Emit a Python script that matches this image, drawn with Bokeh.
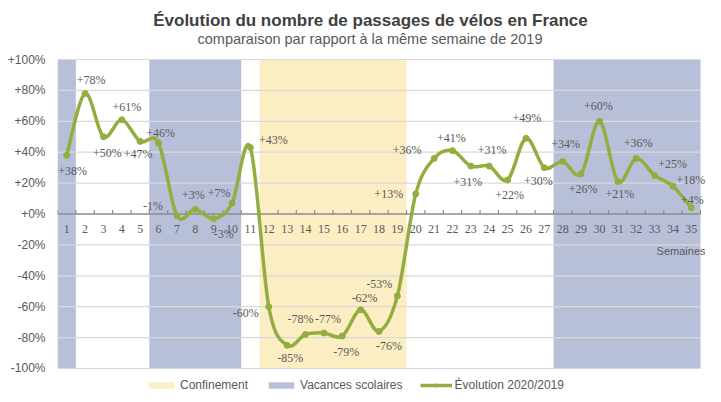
import numpy as np
from bokeh.plotting import figure
from bokeh.models import (ColumnDataSource, LabelSet, Label, Legend, LegendItem,
                          FixedTicker, Range1d)
from bokeh.embed import file_html
from bokeh.resources import INLINE

# ---------------- data ----------------
weeks = list(range(1, 36))
evolution = [38, 78, 50, 61, 47, 46, -1, 3, -3, 7, 43, -60, -85, -78, -77, -79, -62,
             -76, -53, 13, 36, 41, 31, 31, 22, 49, 30, 34, 26, 60, 21, 36, 25, 18, 4]
vacances_debut = [1, 6, 28]
vacances_fin = [1, 10, 35]
confinement_debut = [12]
confinement_fin = [19]
y_ticks = [-100, -80, -60, -40, -20, 0, 20, 40, 60, 80, 100]
y_tick_labels = ["-100%", "-80%", "-60%", "-40%", "-20%", "+0%",
                 "+20%", "+40%", "+60%", "+80%", "+100%"]
week_labels = [str(w) for w in weeks]
point_labels = [f"{v:+d}%" for v in evolution]

title_text = "Évolution du nombre de passages de vélos en France"
subtitle_text = "comparaison par rapport à la même semaine de 2019"
x_title = "Semaines"

# label placement (screen pixels, dy positive = down)
label_dx = [6, 6, 4, 5, -2, 2, -24, -2, 10, -13, 23, -23, 3, -5, 4, 4, 4, 10, -18,
            -27, -27, -1, -3, 3, 2, 1, -6, 3, 2, -1, 2, 2, 18, 18, 1]
label_dy = [16, -13, 16, -13, 13, -10, -10, -14, 15, -10, -8, 6, 13, -16, -14, 16, -12,
            15, -12, 0, -8, -13, 16, -16, 15, -20, 13, -17, 15, -15, 12, -15, -11, -6, -8]

# ---------------- style ----------------
FONT = "Liberation Sans"
TXT = "#595959"
GREEN = "#93AE3F"
VAC = "#B8C0D9"
CONF = "#FCEEC3"
GRID = "#D9D9D9"
AXIS = "#8C8C8C"

W, H = 705, 394
x_lo = weeks[0] - 0.5
x_hi = weeks[-1] + 0.5
# plotting frame spans the whole height so that titles/legend (annotations) are not clipped
p = figure(width=W, height=H, output_backend="svg", toolbar_location=None,
           x_range=Range1d(x_lo, x_hi + 0.272), y_range=Range1d(-116.83, 138.19),
           x_axis_location=None, min_border_left=57, min_border_right=0,
           min_border_top=0, min_border_bottom=0)
p.outline_line_color = None
p.xgrid.visible = False
p.ygrid.visible = False

ya = p.yaxis[0]
ya.ticker = FixedTicker(ticks=y_ticks)
ya.major_label_overrides = dict(zip(y_ticks, y_tick_labels))
ya.axis_line_color = None
ya.major_tick_line_color = None
ya.major_tick_in = 0
ya.major_tick_out = 0
ya.minor_tick_line_color = None
ya.minor_tick_in = 0
ya.minor_tick_out = 0
ya.major_label_standoff = 12
ya.major_label_text_font = FONT
ya.major_label_text_font_size = "12px"
ya.major_label_text_color = TXT

# bands
conf_r = p.quad(left=[s - 0.5 for s in confinement_debut], right=[e + 0.5 for e in confinement_fin],
                top=100, bottom=-100, fill_color=CONF, line_color=None, level="image")
vac_r = p.quad(left=[s - 0.5 for s in vacances_debut], right=[e + 0.5 for e in vacances_fin],
               top=100, bottom=-100, fill_color=VAC, line_color=None, level="image")

# horizontal grid lines limited to the category span
grid_y = [t for t in y_ticks if t != 0]
p.segment(x0=[x_lo] * len(grid_y), x1=[x_hi] * len(grid_y), y0=grid_y, y1=grid_y,
          line_color=GRID, line_width=1.2, level="underlay")
# zero axis line + ticks
p.segment(x0=[x_lo], x1=[x_hi], y0=[0], y1=[0], line_color=AXIS, line_width=1.5, level="underlay")
boundaries = [w - 0.5 for w in weeks] + [x_hi]
p.ray(x=boundaries, y=[0] * len(boundaries), length=4, angle=np.pi / 2, length_units="screen",
      line_color=AXIS, line_width=1.2, level="underlay")

# smoothed line through bezier segments
x = np.array(weeks, dtype=float)
y = np.array(evolution, dtype=float)
xp = np.concatenate([[x[0]], x, [x[-1]]])
yp = np.concatenate([[y[0]], y, [y[-1]]])
n = len(x)
seg = dict(x0=x[:-1], y0=y[:-1], x1=x[1:], y1=y[1:],
           cx0=x[:-1] + (xp[2:n + 1] - xp[0:n - 1]) / 6.0,
           cy0=y[:-1] + (yp[2:n + 1] - yp[0:n - 1]) / 6.0,
           cx1=x[1:] - (xp[3:n + 2] - xp[1:n]) / 6.0,
           cy1=y[1:] - (yp[3:n + 2] - yp[1:n]) / 6.0)
p.bezier(source=ColumnDataSource(seg), x0="x0", y0="y0", x1="x1", y1="y1",
         cx0="cx0", cy0="cy0", cx1="cx1", cy1="cy1",
         line_color=GREEN, line_width=3.5, line_cap="round")
# legend proxy for the line style (single point: draws nothing in the plot)
line_r = p.line(x=weeks[:1], y=evolution[:1], line_color=GREEN, line_width=3.5)
pts = ColumnDataSource(dict(x=weeks, y=evolution, label=point_labels,
                            dx=label_dx, dy=[-d for d in label_dy]))
mark_r = p.scatter("x", "y", source=pts, size=6, fill_color=GREEN, line_color=GREEN)

# data labels
p.add_layout(LabelSet(x="x", y="y", text="label", source=pts, x_offset="dx", y_offset="dy",
                      text_align="center", text_baseline="middle", text_font=FONT,
                      text_font_size="12px", text_color=TXT))

# week labels
wk = ColumnDataSource(dict(x=weeks, y=[0] * len(weeks), t=week_labels))
p.add_layout(LabelSet(x="x", y="y", text="t", source=wk, y_offset=-14.5,
                      text_align="center", text_baseline="middle", text_font=FONT,
                      text_font_size="12px", text_color=TXT))

p.add_layout(Label(x=x_hi, y=0, x_offset=5, y_offset=-37, text=x_title, text_align="right",
                   text_baseline="middle", text_font=FONT, text_font_size="11px", text_color=TXT))

# titles (screen units, measured from the frame's bottom-left)
p.add_layout(Label(x=313, y=H - 19.5, x_units="screen", y_units="screen", text=title_text,
                   text_align="center", text_baseline="middle", text_font=FONT,
                   text_font_size="17px", text_font_style="bold", text_color="#404040"))
p.add_layout(Label(x=312.5, y=H - 38, x_units="screen", y_units="screen", text=subtitle_text,
                   text_align="center", text_baseline="middle", text_font=FONT,
                   text_font_size="14.5px", text_color=TXT))

legend = Legend(items=[LegendItem(label="Confinement", renderers=[conf_r]),
                       LegendItem(label="Vacances scolaires", renderers=[vac_r]),
                       LegendItem(label="Évolution 2020/2019", renderers=[line_r, mark_r])],
                orientation="horizontal", location=(88, 2), padding=0, margin=0,
                spacing=17, glyph_width=32, glyph_height=8, label_standoff=3,
                label_text_font=FONT, label_text_font_size="12px", label_text_color=TXT,
                border_line_color=None, background_fill_alpha=0, label_height=14)
p.add_layout(legend)

open("out.html", "w").write(file_html(p, INLINE))
